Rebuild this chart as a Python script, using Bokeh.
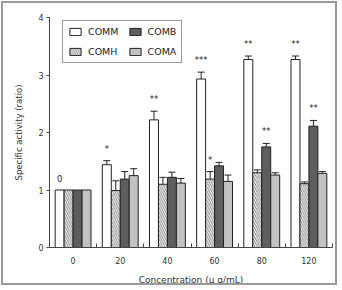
from bokeh.plotting import figure
from bokeh.models import (ColumnDataSource, Whisker, TeeHead, FixedTicker, Legend,
                          LegendItem, Range1d)
from bokeh.core.properties import value
from bokeh.embed import file_html
from bokeh.resources import INLINE

# ---- data ----
concentrations = ["0", "20", "40", "60", "80", "120"]
series = ["COMM", "COMH", "COMB", "COMA"]
comm = [1.00, 1.44, 2.22, 2.93, 3.27, 3.27]
comm_err = [0.0, 0.07, 0.15, 0.12, 0.06, 0.06]
comh = [1.00, 0.99, 1.10, 1.19, 1.30, 1.11]
comh_err = [0.0, 0.17, 0.12, 0.13, 0.05, 0.03]
comb = [1.00, 1.19, 1.22, 1.42, 1.75, 2.11]
comb_err = [0.0, 0.13, 0.09, 0.06, 0.06, 0.10]
coma = [1.00, 1.25, 1.12, 1.15, 1.26, 1.29]
coma_err = [0.0, 0.12, 0.08, 0.11, 0.04, 0.03]
comm_sig = ["0", "*", "**", "***", "**", "**"]
comh_sig = ["", "", "", "*", "", ""]
comb_sig = ["", "", "", "", "**", "**"]
coma_sig = ["", "", "", "", "", ""]
y_ticks = [0, 1, 2, 3, 4]

values = [comm, comh, comb, coma]
errors = [comm_err, comh_err, comb_err, coma_err]
sigs = [comm_sig, comh_sig, comb_sig, coma_sig]

FONT = "DejaVu Sans"
n = len(concentrations)
centers = [i + 0.5 for i in range(n)]
bar_w = 0.19
offsets = [(k - 1.5) * bar_w for k in range(len(series))]

styles = [
    dict(fill_color="white", hatch_pattern=None),
    dict(fill_color="white", hatch_pattern="left_diagonal_line", hatch_color="#555555",
         hatch_scale=4.5, hatch_weight=0.8),
    dict(fill_color="#5e5e5e", hatch_pattern=None),
    dict(fill_color="#c2c2c2", hatch_pattern=None),
]

p = figure(width=336, height=284, x_range=Range1d(0, 6), y_range=Range1d(0, 4),
           output_backend="svg", toolbar_location=None,
           min_border_left=46, min_border_right=7, min_border_top=14, min_border_bottom=39)
p.styles = {"border": "2px solid #9a9a9a", "margin": "1px"}
p.outline_line_color = None
p.xgrid.visible = False
p.ygrid.visible = False
p.background_fill_color = "white"
p.border_fill_color = "white"

items = []
for k, name in enumerate(series):
    xs = [c + offsets[k] for c in centers]
    src = ColumnDataSource(dict(x=xs, top=values[k]))
    st = styles[k]
    kw = dict(fill_color=st["fill_color"], line_color="#222222", line_width=1)
    if st["hatch_pattern"]:
        kw.update(hatch_pattern=st["hatch_pattern"], hatch_color=st["hatch_color"],
                  hatch_scale=st["hatch_scale"], hatch_weight=st["hatch_weight"])
    r = p.vbar(x="x", top="top", width=bar_w, bottom=0, source=src, **kw)
    items.append((name, r))

    ex, up, lo = [], [], []
    for x, v, e in zip(xs, values[k], errors[k]):
        if e > 0:
            ex.append(x); up.append(v + e); lo.append(v - e)
    esrc = ColumnDataSource(dict(x=ex, upper=up, lower=lo))
    w = Whisker(base="x", upper="upper", lower="lower", source=esrc,
                line_color="#222222", line_width=1,
                upper_head=TeeHead(size=7, line_color="#222222", line_width=1),
                lower_head=TeeHead(size=7, line_color="#222222", line_width=1))
    p.add_layout(w)

    tx, ty, tt = [], [], []
    for x, v, e, s in zip(xs, values[k], errors[k], sigs[k]):
        if s:
            tx.append(x); ty.append(v + e); tt.append(s)
    tsrc = ColumnDataSource(dict(x=tx, y=ty, t=tt))
    p.text(x="x", y="y", text="t", source=tsrc, text_align="center",
           text_baseline="middle", y_offset=-12, text_font=value(FONT),
           text_font_size="8.5px", text_color="#222222")

# legend: COMM, COMB on first row; COMH, COMA on second
order = ["COMM", "COMH", "COMB", "COMA"]
rmap = dict(items)
legend = Legend(items=[LegendItem(label=nm, renderers=[rmap[nm]]) for nm in order],
                location=(13, 184), ncols=2, orientation="vertical")
legend.label_text_font = FONT
legend.label_text_font_size = "9.5px"
legend.label_text_color = "#222222"
legend.glyph_width = 14
legend.glyph_height = 9
legend.label_height = 11
legend.label_standoff = 6
legend.spacing = 9
legend.padding = 5
legend.margin = 0
legend.border_line_color = "#333333"
legend.border_line_width = 1
legend.background_fill_alpha = 1
p.add_layout(legend, "center")

# y axis
p.yaxis.ticker = FixedTicker(ticks=y_ticks)
p.yaxis.minor_tick_line_color = None
p.yaxis.major_tick_out = 3
p.yaxis.major_tick_in = 0
p.yaxis.axis_label = "Specific activity (ratio)"
p.yaxis.axis_label_text_font = FONT
p.yaxis.axis_label_text_font_style = "normal"
p.yaxis.axis_label_text_font_size = "8.5px"
p.yaxis.axis_label_standoff = 11
p.yaxis.major_label_text_font = FONT
p.yaxis.major_label_text_font_size = "8px"
p.yaxis.major_label_standoff = 3
p.yaxis.axis_line_color = "#444444"
p.yaxis.major_tick_line_color = "#444444"
p.yaxis.major_label_text_color = "#333333"
p.yaxis.axis_label_text_color = "#333333"

# x axis
p.xaxis.ticker = FixedTicker(ticks=centers, minor_ticks=[1, 2, 3, 4, 5, 6])
p.xaxis.major_label_overrides = {c: lab for c, lab in zip(centers, concentrations)}
p.xaxis.major_tick_in = 0
p.xaxis.major_tick_out = 0
p.xaxis.minor_tick_in = 4
p.xaxis.minor_tick_out = 0
p.xaxis.axis_label = "Concentration (\u03bc g/mL)"
p.xaxis.axis_label_text_font = FONT
p.xaxis.axis_label_text_font_style = "normal"
p.xaxis.axis_label_text_font_size = "9px"
p.xaxis.axis_label_standoff = 8
p.xaxis.major_label_text_font = FONT
p.xaxis.major_label_text_font_size = "8px"
p.xaxis.major_label_standoff = 9
p.xaxis.axis_line_color = "#444444"
p.xaxis.minor_tick_line_color = "#444444"
p.xaxis.major_label_text_color = "#333333"
p.xaxis.axis_label_text_color = "#333333"

open("out.html", "w").write(file_html(p, INLINE))
